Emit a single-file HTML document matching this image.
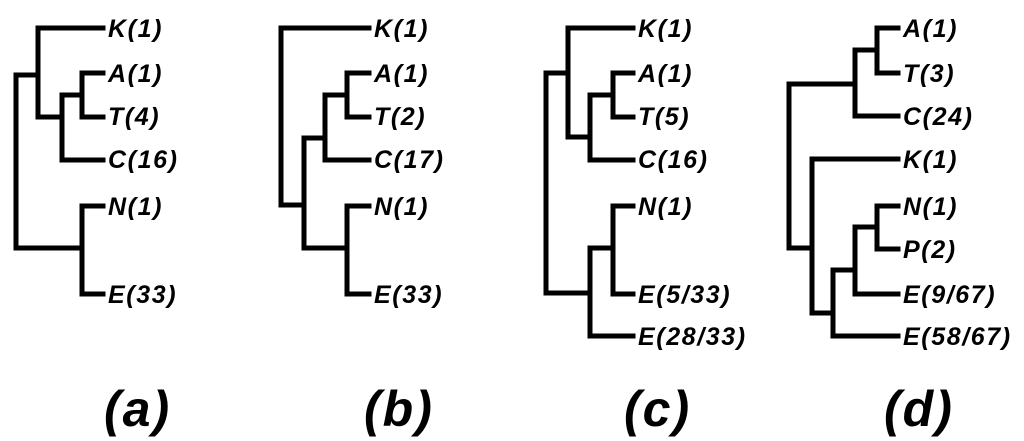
<!DOCTYPE html>
<html><head><style>html,body{margin:0;padding:0;background:#fff}svg{display:block}</style></head><body>
<svg width="1024" height="441" viewBox="0 0 1024 441" xmlns="http://www.w3.org/2000/svg">
<g fill="none" stroke="#000" stroke-width="5" stroke-linecap="square" stroke-linejoin="miter">
<path d="M16,248 V75 H38 M38,28 V117 H62 M62,95 V160 H103 M62,95 H82 M82,73 V117 H103 M82,73 H103 M38,28 H103 M16,248 H82 M82,206 V294 H103 M82,206 H103"/>
<path d="M281,28 H369 M281,28 V205 H304 M304,138 V248 H347 M304,138 H325 M325,95 V160 H369 M325,95 H347 M347,73 V117 H369 M347,73 H369 M347,206 V294 H369 M347,206 H369"/>
<path d="M546,73 V293 H590 M546,73 H568 M568,28 V137 H590 M568,28 H633 M590,95 V160 H633 M590,95 H613 M613,73 V117 H633 M613,73 H633 M590,248 V336 H633 M590,248 H613 M613,206 V294 H633 M613,206 H633"/>
<path d="M789,84 V248 H812 M789,84 H855 M855,50 V116 H898 M855,50 H877 M877,28 V73 H898 M877,28 H898 M812,159 V313 H833 M812,159 H898 M833,270 V336 H898 M833,270 H855 M855,227 V294 H898 M855,227 H877 M877,206 V249 H898 M877,206 H898"/>
</g>
<g font-family="Liberation Sans, Arial, sans-serif" font-weight="bold" font-style="italic" font-size="25" letter-spacing="1.6" fill="#000">
<text x="108" y="37">K(1)</text><text x="108" y="82">A(1)</text><text x="108" y="125">T(4)</text><text x="108" y="168">C(16)</text><text x="108" y="215">N(1)</text><text x="108" y="303">E(33)</text>
<text x="374" y="37">K(1)</text><text x="374" y="82">A(1)</text><text x="374" y="125">T(2)</text><text x="374" y="168">C(17)</text><text x="374" y="215">N(1)</text><text x="374" y="303">E(33)</text>
<text x="638" y="37">K(1)</text><text x="638" y="82">A(1)</text><text x="638" y="125">T(5)</text><text x="638" y="168">C(16)</text><text x="638" y="215">N(1)</text><text x="638" y="303">E(5/33)</text><text x="638" y="345">E(28/33)</text>
<text x="903" y="37">A(1)</text><text x="903" y="82">T(3)</text><text x="903" y="125">C(24)</text><text x="903" y="168">K(1)</text><text x="903" y="215">N(1)</text><text x="903" y="258">P(2)</text><text x="903" y="303">E(9/67)</text><text x="903" y="345">E(58/67)</text>
</g>
<g font-family="Liberation Sans, Arial, sans-serif" font-weight="bold" font-style="italic" font-size="50" letter-spacing="2" fill="#000">
<text x="104" y="426">(a)</text><text x="364" y="426">(b)</text><text x="624" y="426">(c)</text><text x="884" y="426">(d)</text>
</g>
</svg>
</body></html>
